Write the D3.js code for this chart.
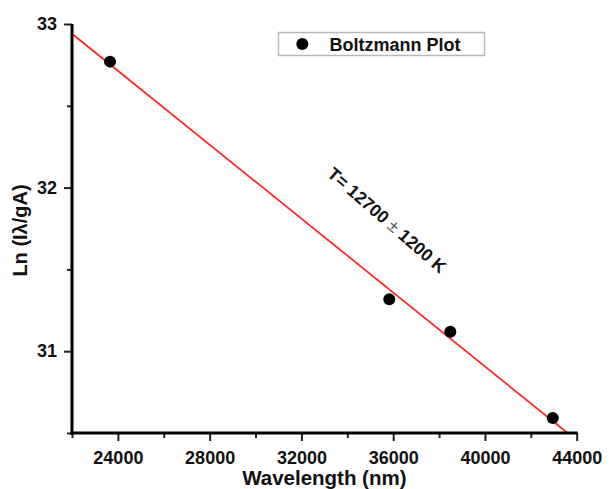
<!DOCTYPE html>
<html>
<head>
<meta charset="utf-8">
<script src="https://cdn.jsdelivr.net/npm/d3@7/dist/d3.min.js"></script>
<style>
  html, body { margin: 0; padding: 0; background: #ffffff; }
  svg text { font-family: "Liberation Sans", Arial, sans-serif; font-weight: bold; fill: #111; }
</style>
</head>
<body>
<svg id="chart" width="611" height="489"></svg>
<script>
// ---- data ----
const wavelength = [23658, 35831, 38492, 42956];
const lnValues   = [32.77, 31.318, 31.119, 30.591];
const fitX = [22000, 43600];
const fitY = [32.94, 30.50];
const xMajorTicks = [24000, 28000, 32000, 36000, 40000, 44000];
const xMinorTicks = [22000, 26000, 30000, 34000, 38000, 42000];
const yMajorTicks = [31, 32, 33];
const yMinorTicks = [30.5, 31.5, 32.5];
const seriesName = "Boltzmann Plot";
const annotation = { x: 35730, y: 31.80, text1: "T= 12700 ", pm: "±", text2: " 1200 K" };
const xTitle = "Wavelength (nm)";
const yTitle = "Ln (Iλ/gA)";

// ---- layout ----
const svg = d3.select("#chart");
const pL = 72, pR = 576.7, pT = 24, pB = 433;

const x = d3.scaleLinear().domain([22000, 44000]).range([pL, pR]);
const y = d3.scaleLinear().domain([30.5, 33]).range([pB, pT]);

svg.append("defs").append("clipPath").attr("id", "clip")
  .append("rect").attr("x", pL).attr("y", pT).attr("width", pR - pL).attr("height", pB - pT);

// fit line
svg.append("line")
  .attr("clip-path", "url(#clip)")
  .attr("x1", x(fitX[0])).attr("y1", y(fitY[0]))
  .attr("x2", x(fitX[1])).attr("y2", y(fitY[1]))
  .attr("stroke", "#ff2a2a").attr("stroke-width", 1.8);

// points
svg.selectAll("circle.pt").data(wavelength).enter().append("circle")
  .attr("class", "pt")
  .attr("cx", d => x(d)).attr("cy", (d, i) => y(lnValues[i]))
  .attr("r", 6).attr("fill", "#000");

// axes
const xAxisMajor = d3.axisBottom(x).tickValues(xMajorTicks).tickSize(8).tickSizeOuter(0).tickPadding(10).tickFormat(d3.format("d"));
const xAxisMinor = d3.axisBottom(x).tickValues(xMinorTicks).tickSize(5).tickSizeOuter(0).tickFormat("");
const yAxisMajor = d3.axisLeft(y).tickValues(yMajorTicks).tickSize(8).tickSizeOuter(0).tickPadding(7).tickFormat(d3.format("d"));
const yAxisMinor = d3.axisLeft(y).tickValues(yMinorTicks).tickSize(5).tickSizeOuter(0).tickFormat("");

function styleAxis(g) {
  g.select(".domain").remove();
  g.selectAll(".tick line").attr("stroke", "#222").attr("stroke-width", 2);
  g.selectAll(".tick text").attr("font-size", 18).style("font-weight", "bold").attr("fill", "#111");
}

svg.append("g").attr("transform", `translate(0,${pB})`).call(xAxisMinor).call(styleAxis);
svg.append("g").attr("transform", `translate(0,${pB})`).call(xAxisMajor).call(styleAxis);
svg.append("g").attr("transform", `translate(${pL},0)`).call(yAxisMinor).call(styleAxis);
svg.append("g").attr("transform", `translate(${pL},0)`).call(yAxisMajor).call(styleAxis);

// axis lines
svg.append("line").attr("x1", pL - 1.5).attr("x2", pR + 1).attr("y1", pB).attr("y2", pB)
  .attr("stroke", "#000").attr("stroke-width", 3);
svg.append("line").attr("x1", pL).attr("x2", pL).attr("y1", pT).attr("y2", pB + 1.5)
  .attr("stroke", "#000").attr("stroke-width", 3);

// axis titles
svg.append("text").attr("x", (pL + pR) / 2).attr("y", 485)
  .attr("text-anchor", "middle").attr("font-size", 20.5).text(xTitle);
svg.append("text").attr("transform", `translate(26.5,${(pT + pB) / 2 + 2}) rotate(-90)`)
  .attr("text-anchor", "middle").attr("font-size", 20).text(yTitle);

// legend
const lg = svg.append("g");
lg.append("rect").attr("x", 278.5).attr("y", 32.5).attr("width", 206).attr("height", 23)
  .attr("fill", "#fff").attr("stroke", "#b8b8b8").attr("stroke-width", 1.5);
lg.append("circle").attr("cx", 302.3).attr("cy", 44).attr("r", 6).attr("fill", "#000");
lg.append("text").attr("x", 329.5).attr("y", 50.5).attr("font-size", 18).text(seriesName);

// annotation
const ann = svg.append("text")
  .attr("transform", `translate(${x(annotation.x)},${y(annotation.y)}) rotate(41)`)
  .attr("text-anchor", "middle").attr("dominant-baseline", "central")
  .attr("font-size", 17.5);
ann.append("tspan").text(annotation.text1);
ann.append("tspan").style("font-weight", "normal").attr("fill", "#555").text(annotation.pm);
ann.append("tspan").text(annotation.text2);
</script>
</body>
</html>
